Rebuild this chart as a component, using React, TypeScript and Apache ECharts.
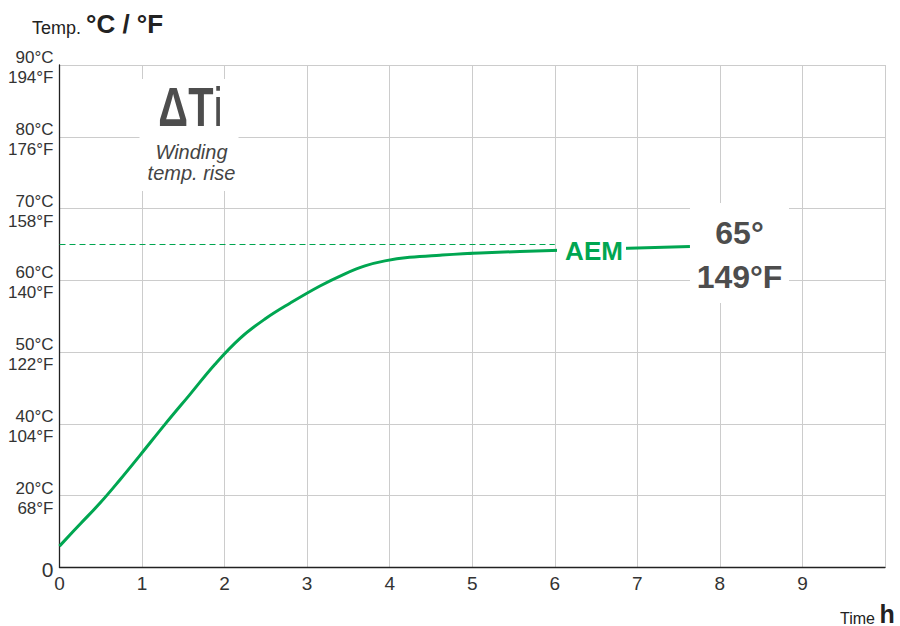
import React, { useEffect, useRef } from "react";
import * as echarts from "echarts";

// Heating curve readings (time in hours, winding temperature rise in °C)
const timeH = [0, 0.248, 0.491, 0.733, 0.975, 1.28, 1.581, 1.884, 2.187, 2.489, 2.792, 3.155, 3.458, 3.7, 3.942, 4.24, 4.609, 5.094, 6.063, 7.637];
const tempC = [5.9, 12.0, 17.9, 24.4, 31.2, 39.9, 44.1, 48.3, 51.9, 54.6, 56.8, 59.2, 60.9, 62.0, 62.7, 63.2, 63.5, 63.8, 64.2, 64.7];

// Y axis tick labels (equally spaced on the chart)
const yTicksC = [0, 20, 40, 50, 60, 70, 80, 90];
const yTicksF = [0, 68, 104, 122, 140, 158, 176, 194];

// X axis
const xMax = 10;
const xTickLabels = ["0", "1", "2", "3", "4", "5", "6", "7", "8", "9", ""];

// Annotations
const plateauC = 65;
const plateauF = 149;
const dashEndH = 6;
const seriesName = "AEM";

const GREEN = "#00a651";
const DARK = "#333333";
const GREY = "#4d4d4d";
const FONT = "'Liberation Sans', Arial, Helvetica, sans-serif";

// piecewise mapping of °C onto the equally spaced tick positions
function toAxis(c: number): number {
  for (let i = 0; i < yTicksC.length - 1; i++) {
    if (c <= yTicksC[i + 1]) {
      return i + (c - yTicksC[i]) / (yTicksC[i + 1] - yTicksC[i]);
    }
  }
  return yTicksC.length - 1;
}

export default function App() {
  const ref = useRef<HTMLDivElement>(null);

  useEffect(() => {
    document.body.style.margin = "0";
    if (!ref.current) return;
    const chart = echarts.init(ref.current, null, { renderer: "svg" });
    const plateauY = toAxis(plateauC);

    const option: any = {
      animation: false,
      backgroundColor: "#ffffff",
      textStyle: { fontFamily: FONT },
      title: [
        {
          text: "{a|Temp. }{b|°C / °F}",
          left: 27,
          top: 6,
          textStyle: {
            fontWeight: "normal",
            rich: {
              a: { fontSize: 18, fontWeight: "normal", color: "#222", fontFamily: FONT, verticalAlign: "bottom" },
              b: { fontSize: 26, fontWeight: "bold", color: "#222", fontFamily: FONT, verticalAlign: "bottom" },
            },
          },
        },
        {
          text: "{a|Time }{b|h}",
          left: 835,
          top: 596,
          textStyle: {
            fontWeight: "normal",
            rich: {
              a: { fontSize: 16, fontWeight: "normal", color: "#222", fontFamily: FONT, verticalAlign: "bottom" },
              b: { fontSize: 25, fontWeight: "bold", color: "#222", fontFamily: FONT, verticalAlign: "bottom" },
            },
          },
        },
      ],
      grid: { left: 59.5, right: 15, top: 65, bottom: 58.7, containLabel: false },
      xAxis: {
        type: "value",
        min: 0,
        max: xMax,
        interval: 1,
        axisLine: { show: true, lineStyle: { color: "#222", width: 1.3 } },
        axisTick: { show: false },
        splitLine: { show: true, lineStyle: { color: "#cccccc", width: 1 } },
        axisLabel: {
          fontSize: 19,
          color: DARK,
          margin: 7,
          fontFamily: FONT,
          formatter: (v: number) => xTickLabels[Math.round(v)] ?? "",
        },
      },
      yAxis: {
        type: "value",
        min: 0,
        max: yTicksC.length - 1,
        interval: 1,
        axisLine: { show: true, lineStyle: { color: "#222", width: 1.3 } },
        axisTick: { show: false },
        splitLine: { show: true, lineStyle: { color: "#cccccc", width: 1 } },
        axisLabel: {
          fontSize: 17,
          lineHeight: 20,
          color: DARK,
          margin: 6,
          padding: [5, 0, 0, 0],
          fontFamily: FONT,
          formatter: (v: number) => {
            const i = Math.round(v);
            if (i === 0) return "{z|0}";
            return `${yTicksC[i]}°C\n${yTicksF[i]}°F`;
          },
          rich: {
            z: { fontSize: 21, color: DARK, fontFamily: FONT },
          },
        },
      },
      series: [
        {
          name: seriesName,
          type: "line",
          smooth: 0.4,
          showSymbol: false,
          data: timeH.map((h, i) => [h, toAxis(tempC[i])]),
          lineStyle: { color: GREEN, width: 3 },
          z: 3,
          markLine: {
            silent: true,
            symbol: ["none", "none"],
            label: { show: false },
            lineStyle: { color: GREEN, width: 1, type: [6, 4] },
            data: [[{ coord: [0, plateauY] }, { coord: [dashEndH, plateauY] }]],
          },
        },
      ],
      graphic: [
        // ΔTi box
        {
          type: "rect",
          z: 10,
          shape: { x: 139.5, y: 79, width: 99, height: 112 },
          style: { fill: "#ffffff" },
        },
        {
          type: "text",
          z: 11,
          x: 190.5,
          y: 106,
          scaleX: 0.74,
          style: {
            text: "{a|ΔT}{b|i}",
            textAlign: "center",
            textVerticalAlign: "middle",
            align: "center",
            verticalAlign: "middle",
            rich: {
              a: { fontSize: 56, fontWeight: "bold", fill: GREY, fontFamily: FONT },
              b: { fontSize: 56, fontWeight: "normal", fill: GREY, fontFamily: FONT },
            },
          },
        },
        {
          type: "text",
          z: 11,
          x: 191.5,
          y: 162,
          style: {
            text: "Winding\ntemp. rise",
            font: `italic 20px ${FONT}`,
            fill: "#444444",
            lineHeight: 21,
            textAlign: "center",
            textVerticalAlign: "middle",
            align: "center",
            verticalAlign: "middle",
          },
        },
        // AEM label
        {
          type: "rect",
          z: 10,
          shape: { x: 557, y: 236, width: 69, height: 30 },
          style: { fill: "#ffffff" },
        },
        {
          type: "text",
          z: 11,
          x: 594,
          y: 251,
          style: {
            text: seriesName,
            font: `bold 26px ${FONT}`,
            fill: GREEN,
            textAlign: "center",
            textVerticalAlign: "middle",
            align: "center",
            verticalAlign: "middle",
          },
        },
        // Final value box
        {
          type: "rect",
          z: 10,
          shape: { x: 690, y: 203, width: 99, height: 100 },
          style: { fill: "#ffffff" },
        },
        {
          type: "text",
          z: 11,
          x: 739.5,
          y: 255,
          style: {
            text: `${plateauC}°\n${plateauF}°F`,
            font: `bold 32px ${FONT}`,
            fill: GREY,
            lineHeight: 44,
            textAlign: "center",
            textVerticalAlign: "middle",
            align: "center",
            verticalAlign: "middle",
          },
        },
      ],
    };

    chart.setOption(option);
    return () => {
      chart.dispose();
    };
  }, []);

  return <div ref={ref} style={{ width: 900, height: 626 }} />;
}
